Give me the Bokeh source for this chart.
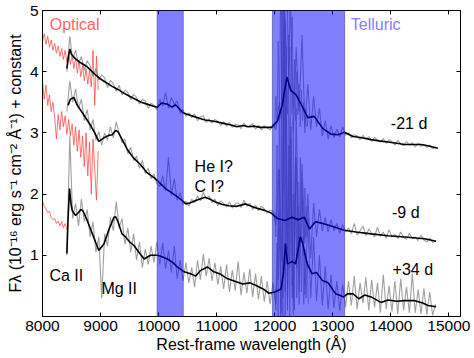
import numpy as np
from bokeh.plotting import figure
from bokeh.models import (Range1d, FixedTicker, LinearAxis, Label, BoxAnnotation,
                          CustomJSTickFormatter)
from bokeh.embed import file_html
from bokeh.resources import INLINE

FONT = "Liberation Sans"

# ---------------- data ----------------
x_ticks = [8000, 9000, 10000, 11000, 12000, 13000, 14000, 15000]
y_ticks = [1, 2, 3, 4, 5]
telluric_bands = [(9975, 10425), (11960, 13205)]

# noisy NIR spectra, 50 A sampling from 8420 A
nir_start, nir_step = 8420, 50
gray_m21 = [4.00, 4.58, 4.20, 4.35, 4.12, 4.25, 4.02, 4.18, 4.10, 3.92, 4.05, 3.86, 3.95, 3.90, 3.74, 3.86,
            3.80, 3.68, 3.78, 3.62, 3.70, 3.66, 3.54, 3.63, 3.58, 3.47, 3.55, 3.52, 3.40, 3.49, 3.45, 3.38,
            3.55, 3.44, 3.66, 3.40, 3.58, 3.47, 3.52, 3.32, 3.38,
            3.27, 3.33, 3.25, 3.31, 3.20, 3.26, 3.28, 3.17, 3.23, 3.16, 3.22, 3.19, 3.12, 3.18, 3.11, 3.17,
            3.09, 3.14, 3.13, 3.07, 3.16, 3.09, 3.12, 3.15, 3.06, 3.13, 3.05, 3.12, 3.08, 3.05,
            3.15, 3.05, 3.45, 3.20, 5.20, 3.30, 5.20, 3.00, 4.40, 3.35, 4.60, 3.10, 3.80, 3.05, 3.60, 3.10,
            3.40, 2.95, 3.20, 2.90, 3.12, 2.92, 3.06, 2.93, 3.10, 2.96,
            3.00, 2.92, 2.97, 2.95, 2.89, 2.96, 2.90, 2.94, 2.86, 2.93, 2.88, 2.85, 2.91, 2.83, 2.89, 2.86,
            2.80, 2.88, 2.82, 2.79, 2.86, 2.80, 2.84, 2.77, 2.83, 2.78, 2.81, 2.76, 2.80, 2.74, 2.76]
gray_m9 = [3.35, 3.85, 3.50, 3.72, 3.40, 3.55, 3.20, 3.38, 3.05, 3.22, 2.88, 3.02, 2.80, 3.00, 2.88, 3.10,
           2.92, 3.18, 3.00, 2.84, 2.90, 2.66, 2.76, 2.55, 2.62, 2.42, 2.55, 2.34, 2.42, 2.25, 2.33, 2.18,
           2.12, 2.30, 2.05, 2.60, 1.98, 2.25, 1.90, 2.02, 1.84,
           1.88, 1.80, 1.92, 1.86, 1.97, 1.89, 2.03, 1.92, 1.97, 1.86, 1.92, 1.81, 1.89, 1.85, 1.79, 1.87,
           1.77, 1.84, 1.86, 1.78, 1.90, 1.80, 1.85, 1.75, 1.82, 1.73, 1.80, 1.76, 1.69, 1.74,
           1.72, 1.50, 2.40, 0.90, 4.20, 1.10, 3.30, 0.30, 2.60, 0.90, 2.50, 1.20, 2.00, 0.95, 1.85, 1.30,
           1.75, 1.40, 1.62, 1.38, 1.58, 1.40, 1.52, 1.36, 1.50, 1.38,
           1.45, 1.35, 1.52, 1.33, 1.40, 1.48, 1.32, 1.43, 1.36, 1.30, 1.46, 1.31, 1.38, 1.28, 1.42, 1.30,
           1.34, 1.27, 1.38, 1.29, 1.26, 1.36, 1.27, 1.30, 1.24, 1.33, 1.25, 1.22, 1.28, 1.21, 1.23]
gray_p34 = [1.00, 2.95, 1.60, 1.85, 1.48, 1.92, 1.55, 1.75, 1.30, 1.55, 1.05, 1.30, 0.30, 1.35, 1.15, 1.62,
            1.40, 1.88, 1.45, 1.60, 1.18, 1.45, 1.05, 1.35, 0.92, 1.22, 0.80, 1.10, 0.85, 1.15, 0.88, 1.22,
            0.85, 1.20, 0.78, 1.08, 0.72, 1.15, 0.62, 0.92, 0.58,
            0.88, 0.55, 0.80, 0.48, 0.92, 0.60, 1.02, 0.66, 0.95, 0.58, 0.88, 0.52, 0.82, 0.45, 0.85, 0.40,
            0.76, 0.42, 0.90, 0.35, 0.72, 0.38, 0.78, 0.32, 0.70, 0.28, 0.66, 0.24, 0.58, 0.20,
            0.55, 0.20, 1.70, 0.05, 4.90, 0.20, 2.60, 0.02, 3.40, 0.40, 2.20, 0.35, 1.60, 0.30, 1.30, 0.25,
            1.00, 0.18, 0.82, 0.12, 0.68, 0.14, 0.58, 0.10, 0.52, 0.15,
            0.58, 0.18, 0.66, 0.12, 0.55, 0.22, 0.64, 0.10, 0.60, 0.15, 0.55, 0.06, 0.68, 0.12, 0.50, 0.08,
            0.58, 0.04, 0.62, 0.10, 0.48, 0.06, 0.70, 0.06, 0.44, 0.04, 0.46, 0.03, 0.40, 0.02, 0.20]

# finer-sampled telluric residual spikes, 20 A sampling from 12000 A
tell_start, tell_step = 12000, 20
tell_m21 = [3.1, 3.6, 3.2, 4.5, 3.4, 5.2, 3.6, 5.2, 3.9, 4.8, 3.5, 5.2, 3.7, 4.4, 3.3, 4.9, 3.4, 4.2,
            3.2, 4.0, 3.3, 3.8, 3.1, 3.7, 3.2, 3.5, 3.0, 3.4, 3.1, 3.3]
tell_m9 = [1.7, 1.3, 2.8, 0.6, 3.5, 0.2, 4.5, 0.0, 5.2, 0.4, 3.8, 0.1, 4.6, 0.8, 2.9, 0.3, 3.2, 1.0,
           2.5, 0.8, 2.2, 1.1, 2.6, 1.2, 1.9, 1.0, 2.1, 1.3, 1.8, 1.4]
tell_p34 = [0.4, 0.1, 1.2, 0.0, 2.4, 0.0, 5.2, 0.3, 3.6, 0.0, 4.4, 0.2, 2.8, 0.0, 3.1, 0.5, 2.0, 0.1,
            2.6, 0.3, 1.8, 0.2, 1.5, 0.4, 1.3, 0.2, 1.1, 0.3, 0.9, 0.2]

# smoothed spectra
wl_m21 = [8420, 8440, 8470, 8500, 8570, 8650, 8770, 8900, 9000, 9100, 9200, 9300, 9400, 9500, 9600, 9700,
          9800, 9900, 9980, 10050, 10150, 10230, 10290, 10350, 10420, 10500, 10600, 10700, 10800, 10950,
          11100, 11250, 11350, 11450, 11550, 11650, 11750, 11850, 11950, 12050, 12130, 12210, 12280, 12370,
          12480, 12570, 12680, 12830, 12970, 13090, 13200, 13350, 13500, 13660, 13800, 13950, 14100, 14240,
          14400, 14520, 14640, 14810]
fl_m21 = [4.05, 4.20, 4.37, 4.28, 4.21, 4.15, 4.08, 3.96, 3.88, 3.82, 3.76, 3.71, 3.65, 3.60, 3.55, 3.50,
          3.47, 3.44, 3.42, 3.49, 3.47, 3.42, 3.46, 3.40, 3.33, 3.30, 3.27, 3.24, 3.21, 3.19,
          3.16, 3.13, 3.10, 3.12, 3.10, 3.11, 3.09, 3.09, 3.09, 3.20, 3.46, 3.91, 3.69, 3.62,
          3.42, 3.25, 3.27, 3.07, 2.98, 2.97, 3.01, 2.94, 2.92, 2.89, 2.87, 2.85, 2.83, 2.81,
          2.81, 2.81, 2.79, 2.75]
wl_m9 = [8440, 8480, 8540, 8600, 8650, 8720, 8830, 8900, 8970, 9060, 9140, 9200, 9260, 9300, 9350, 9460,
         9560, 9690, 9800, 9920, 9980, 10120, 10290, 10400, 10470, 10550, 10650, 10800, 10900, 10980, 11100,
         11210, 11350, 11500, 11650, 11840, 11940, 12050, 12170, 12300, 12400, 12510, 12600, 12700, 12860,
         13000, 13200, 13400, 13660, 13950, 14240, 14580, 14780]
fl_m9 = [3.45, 3.55, 3.58, 3.45, 3.38, 3.28, 3.12, 3.00, 2.86, 2.92, 2.96, 2.97, 3.04, 3.02, 2.93, 2.73,
         2.60, 2.48, 2.35, 2.27, 2.22, 2.09, 1.98, 1.90, 1.84, 1.86, 1.90, 1.95, 1.91, 1.87, 1.83,
         1.81, 1.80, 1.84, 1.78, 1.73, 1.69, 1.60, 1.57, 1.62, 1.58, 1.62, 1.43, 1.55, 1.51,
         1.47, 1.41, 1.38, 1.35, 1.32, 1.30, 1.27, 1.23]
wl_p34 = [8420, 8440, 8465, 8490, 8512, 8570, 8620, 8660, 8700, 8770, 8860, 8920, 8970, 9060, 9140, 9230,
          9260, 9300, 9370, 9430, 9500, 9575, 9660, 9750, 9860, 9980, 10050, 10150, 10250, 10320, 10440,
          10550, 10640, 10720, 10840, 10950, 11050, 11180, 11300, 11450, 11570, 11670, 11800, 11900, 12000,
          12110, 12150, 12185, 12220, 12300, 12360, 12440, 12480, 12560, 12640, 12720, 12820, 12920, 13050,
          13190, 13250, 13350, 13450, 13550, 13660, 13830, 13950, 14100, 14240, 14400, 14550, 14640, 14780]
fl_p34 = [1.03, 1.60, 2.09, 1.85, 1.73, 1.65, 1.70, 1.75, 1.72, 1.57, 1.35, 1.20, 1.08, 1.19, 1.41, 1.62,
          1.63, 1.55, 1.35, 1.30, 1.22, 1.16, 1.05, 0.94, 1.00, 1.00, 0.98, 0.94, 0.88, 0.81, 0.73,
          0.70, 0.66, 0.75, 0.81, 0.73, 0.70, 0.62, 0.58, 0.53, 0.55, 0.51, 0.45, 0.38, 0.40,
          0.45, 0.70, 1.19, 0.86, 0.90, 0.86, 1.30, 1.20, 0.86, 0.70, 0.72, 0.59, 0.55, 0.37,
          0.32, 0.37, 0.37, 0.29, 0.35, 0.32, 0.23, 0.27, 0.25, 0.26, 0.26, 0.22, 0.18, 0.16]

# optical spectra, 30 A sampling from 8000 A
opt_start, opt_step = 8000, 30
opt_m21 = [4.50, 4.62, 4.45, 4.58, 4.40, 4.52, 4.35, 4.46, 4.30, 4.42, 4.25, 4.38, 4.20, 4.35, 4.15, 4.30,
           4.12, 4.28, 4.05, 4.22, 3.98, 4.18, 3.92, 4.10, 3.85, 4.05, 3.80, 4.02, 3.75, 4.35, 3.45, 4.25, 3.70]
opt_m9 = [3.85, 3.55, 3.78, 3.45, 3.62, 3.35, 3.50, 3.25, 2.90, 3.30, 3.05, 3.35, 3.10, 3.28, 2.98, 3.22,
          2.95, 3.15, 2.80, 3.10, 2.70, 3.05, 2.60, 2.95, 2.45, 3.00, 2.30, 2.85, 2.00, 2.90, 2.40, 1.90, 2.70]
opt_p34 = [1.88, 1.80, 1.76, 1.70, 1.72, 1.62, 1.58, 1.60, 1.52, 1.56, 1.48, 1.55, 1.45, 1.52, 1.42]

epoch_labels = ["-21 d", "-9 d", "+34 d"]
epoch_label_pos = [(14000, 3.15), (14020, 1.70), (14030, 0.77)]
line_ids = [("He I?", 10620, 2.45), ("C I?", 10620, 2.13), ("Ca II", 8120, 0.67), ("Mg II", 9015, 0.46)]

# ---------------- figure ----------------
p = figure(width=474, height=358, output_backend="svg", toolbar_location=None,
           x_range=Range1d(8000, 15200), y_range=Range1d(0, 5),
           min_border_left=42, min_border_right=14, min_border_top=10, min_border_bottom=42)
p.grid.visible = False
p.outline_line_color = "black"
p.outline_line_width = 1
p.background_fill_color = "white"
p.border_fill_color = "white"

def style_axis(ax):
    ax.major_tick_in = 4
    ax.major_tick_out = 0
    ax.minor_tick_in = 0
    ax.minor_tick_out = 0
    ax.axis_line_color = "black"
    ax.major_tick_line_color = "black"
    ax.major_label_text_font = FONT
    ax.major_label_text_font_size = "15.5px"
    ax.major_label_text_color = "black"
    ax.axis_label_text_font = FONT
    ax.axis_label_text_font_size = "16px"
    ax.axis_label_text_font_style = "normal"
    ax.axis_label_text_color = "black"

xa = p.xaxis[0]
xa.ticker = FixedTicker(ticks=x_ticks)
xa.axis_label = "Rest-frame wavelength (Å)"
style_axis(xa)
xa.major_label_standoff = 4
xa.axis_label_standoff = 2

ya = p.yaxis[0]
ya.ticker = FixedTicker(ticks=y_ticks)
ya.axis_label = "Fλ (10⁻¹⁶ erg s⁻¹ cm⁻² Å⁻¹) + constant"
style_axis(ya)
ya.major_label_standoff = 4
ya.axis_label_standoff = 3

empty = CustomJSTickFormatter(code="return ''")
top = LinearAxis(ticker=FixedTicker(ticks=x_ticks), formatter=empty)
right = LinearAxis(ticker=FixedTicker(ticks=y_ticks), formatter=empty)
for ax in (top, right):
    style_axis(ax)
    ax.major_label_standoff = 0
p.add_layout(top, "above")
p.add_layout(right, "right")

def grid_x(start, step, vals):
    return start + step * np.arange(len(vals))

# optical (red)
for vals in (opt_m21, opt_m9, opt_p34):
    p.line(grid_x(opt_start, opt_step, vals), vals, line_color="#ff3b3b", line_alpha=0.7, line_width=1)

# noisy NIR (gray)
for vals in (gray_m21, gray_m9, gray_p34):
    p.line(grid_x(nir_start, nir_step, vals), vals, line_color="#808080", line_alpha=0.75, line_width=1.1)
for vals in (tell_m21, tell_m9, tell_p34):
    p.line(grid_x(tell_start, tell_step, vals), vals, line_color="#808080", line_alpha=0.6, line_width=1)

# smoothed (black)
for wl, fl in ((wl_m21, fl_m21), (wl_m9, fl_m9), (wl_p34, fl_p34)):
    p.line(wl, fl, line_color="black", line_width=1.6)

# telluric bands on top
for lo, hi in telluric_bands:
    p.add_layout(BoxAnnotation(left=lo, right=hi, fill_color="#0000ff", fill_alpha=0.5,
                               line_color="#303070", line_alpha=0.5, line_width=1))

def add_text(txt, x, y, color="black"):
    p.add_layout(Label(x=x, y=y, text=txt, text_font=FONT, text_font_size="16px",
                       text_color=color, text_baseline="middle", text_align="left"))

add_text("Optical", 8125, 4.77, "#ff6666")
add_text("Telluric", 13310, 4.77, "#8080ff")
for txt, (x, y) in zip(epoch_labels, epoch_label_pos):
    add_text(txt, x, y)
for txt, x, y in line_ids:
    add_text(txt, x, y)

open("out.html", "w").write(file_html(p, INLINE))
